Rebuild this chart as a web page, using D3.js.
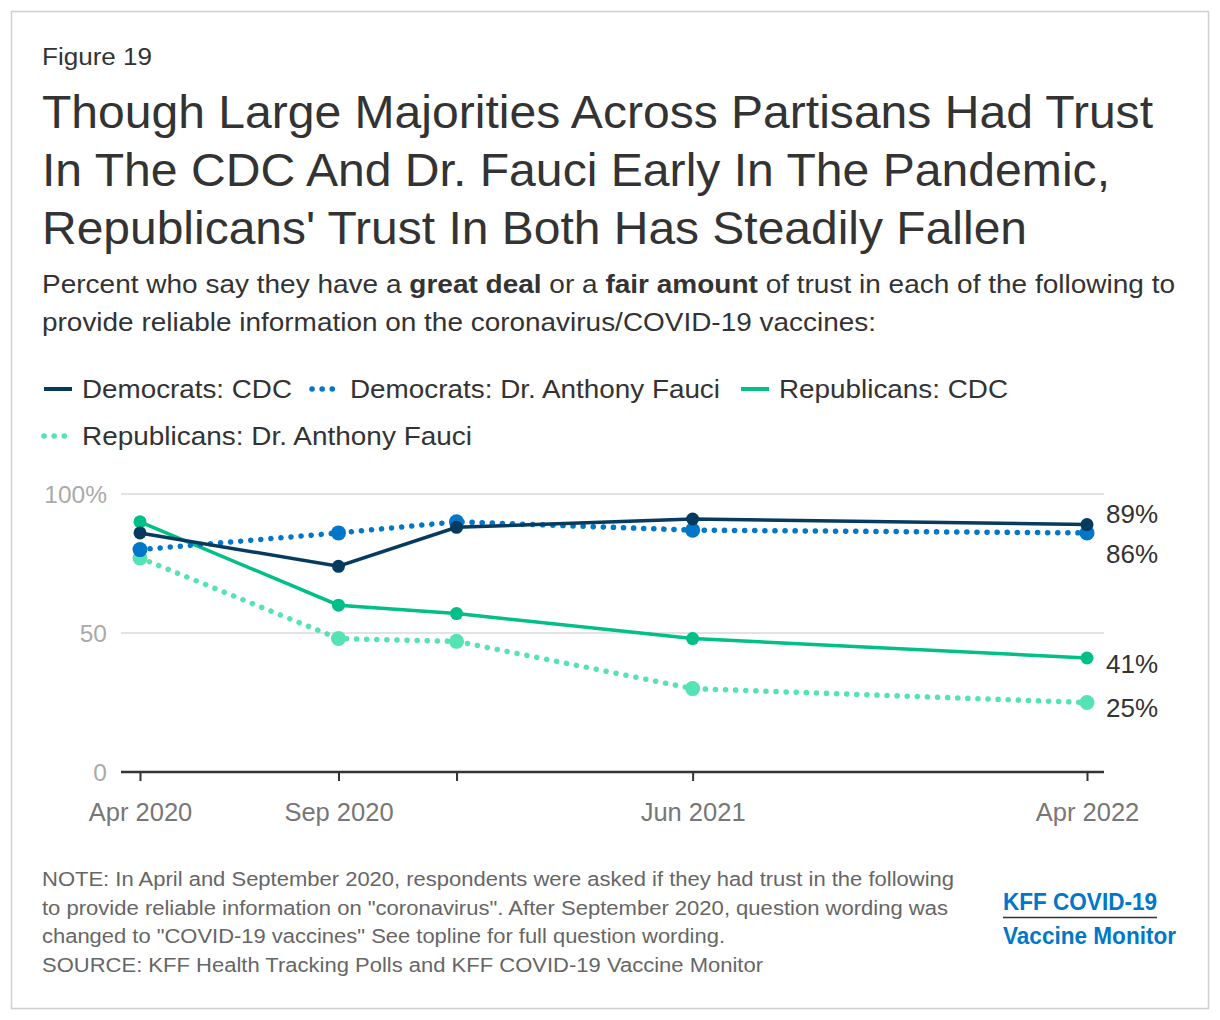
<!DOCTYPE html>
<html><head><meta charset="utf-8">
<script src="https://cdn.jsdelivr.net/npm/d3@7"></script>
<style>
body{margin:0;background:#fff;font-family:"Liberation Sans",Arial,sans-serif;}
svg text{font-family:"Liberation Sans",Arial,sans-serif;}
</style></head><body>
<svg id="c" width="1220" height="1020"></svg>
<script>
const dates = ["2020-04-01","2020-09-01","2020-12-01","2021-06-01","2022-04-01"];
const tickLabels = ["Apr 2020","Sep 2020","","Jun 2021","Apr 2022"];
const seriesNames = ["Democrats: CDC","Democrats: Dr. Anthony Fauci","Republicans: CDC","Republicans: Dr. Anthony Fauci"];
const demCDC = [86,74,88,91,89];
const demFauci = [80,86,90,87,86];
const repCDC = [90,60,57,48,41];
const repFauci = [77,48,47,30,25];
const yTicks = [0,50,100];
const yTickLabels = ["0","50","100%"];

const colors = ["#063a5e","#0077c8","#00bf87","#55e3b3"];
const dotted = [false,true,false,true];
const allSeries = [demCDC,demFauci,repCDC,repFauci];

const svg = d3.select("#c");
svg.append("rect").attr("x",11.5).attr("y",11.5).attr("width",1197).attr("height",997)
  .attr("fill","#fff").attr("stroke","#cfcfcf").attr("stroke-width",1.5);

function fit(sel,w){ return sel.attr("textLength",w).attr("lengthAdjust","spacingAndGlyphs"); }

fit(svg.append("text").attr("x",42).attr("y",65).attr("font-size",23).attr("fill","#333").text("Figure 19"),110);
const title = ["Though Large Majorities Across Partisans Had Trust","In The CDC And Dr. Fauci Early In The Pandemic,","Republicans' Trust In Both Has Steadily Fallen"];
const titleW = [1111,1068,985];
title.forEach((t,i)=>fit(svg.append("text").attr("x",42).attr("y",128+i*58).attr("font-size",46).attr("fill","#333").text(t),titleW[i]));

const sub1 = svg.append("text").attr("x",42).attr("y",293).attr("font-size",25.5).attr("fill","#333");
sub1.append("tspan").text("Percent who say they have a ");
sub1.append("tspan").attr("font-weight","bold").text("great deal");
sub1.append("tspan").text(" or a ");
sub1.append("tspan").attr("font-weight","bold").text("fair amount");
sub1.append("tspan").text(" of trust in each of the following to");
fit(sub1,1133);
fit(svg.append("text").attr("x",42).attr("y",331).attr("font-size",25.5).attr("fill","#333")
  .text("provide reliable information on the coronavirus/COVID-19 vaccines:"),834);

// legend
const legPos = [[42,389],[310,389],[739,389],[42,436]];
const legW = [210,370,229,390];
seriesNames.forEach((n,i)=>{
  const [lx,ly]=legPos[i];
  const l = svg.append("line").attr("x1",lx+2).attr("x2",lx+30).attr("y1",ly).attr("y2",ly)
    .attr("stroke",colors[i]).attr("stroke-width",4);
  if(dotted[i]) l.attr("stroke-dasharray","0.1,10").attr("stroke-linecap","round").attr("stroke-width",5.5);
  fit(svg.append("text").attr("x",lx+40).attr("y",ly+9).attr("font-size",25.5).attr("fill","#333").text(n),legW[i]);
});

const parse = d3.timeParse("%Y-%m-%d");
const dd = dates.map(parse);
const x = d3.scaleTime().domain([dd[0],dd[4]]).range([140,1087]);
const y = d3.scaleLinear().domain([0,100]).range([772,494]);

// grid
svg.append("g").selectAll("line").data(yTicks.filter(v=>v>0)).join("line")
  .attr("x1",121).attr("x2",1104).attr("y1",d=>y(d)).attr("y2",d=>y(d))
  .attr("stroke","#e3e3e3").attr("stroke-width",2);
svg.append("g").selectAll("text").data(yTicks).join("text")
  .attr("x",107).attr("y",d=>y(d)+9).attr("text-anchor","end").attr("font-size",24.5).attr("fill","#aaa")
  .text((d,i)=>yTickLabels[i]);

// x axis
const xAxis = d3.axisBottom(x).tickValues(dd).tickSize(9).tickSizeOuter(0).tickFormat((d,i)=>tickLabels[i]);
const gx = svg.append("g").attr("transform","translate(0,772)").call(xAxis);
gx.select(".domain").remove();
gx.append("line").attr("x1",121).attr("x2",1104).attr("y1",0).attr("y2",0).attr("stroke","#333").attr("stroke-width",2.5);
gx.selectAll(".tick line").attr("stroke","#333").attr("stroke-width",2);
gx.selectAll(".tick text").attr("font-size",25.5).attr("fill","#777").attr("dy","1.45em")
  .attr("font-family","'Liberation Sans',Arial,sans-serif");

// lines
const line = d3.line().x((d,i)=>x(dd[i])).y(d=>y(d));
const drawOrder = [3,2,1,0];
drawOrder.forEach(i=>{
  const p = svg.append("path").datum(allSeries[i]).attr("d",line).attr("fill","none")
    .attr("stroke",colors[i]).attr("stroke-width",3.5);
  if(dotted[i]) p.attr("stroke-dasharray","0.1,10").attr("stroke-linecap","round").attr("stroke-width",5.5);
  svg.append("g").selectAll("circle").data(allSeries[i]).join("circle")
    .attr("cx",(d,k)=>x(dd[k])).attr("cy",d=>y(d)).attr("r",dotted[i]?7.5:6.5).attr("fill",colors[i]);
});

// end labels
const endYs = [523,563,673,717];
allSeries.forEach((s,i)=>{
  svg.append("text").attr("x",1106).attr("y",endYs[i]).attr("font-size",26).attr("fill","#333")
    .text(s[s.length-1]+"%");
});

// notes
const notes = ["NOTE: In April and September 2020, respondents were asked if they had trust in the following",
"to provide reliable information on \"coronavirus\". After September 2020, question wording was",
"changed to \"COVID-19 vaccines\" See topline for full question wording.",
"SOURCE: KFF Health Tracking Polls and KFF COVID-19 Vaccine Monitor"];
const noteW = [912,906,683,721];
notes.forEach((t,i)=>fit(svg.append("text").attr("x",42).attr("y",886+i*28.5).attr("font-size",20)
  .attr("fill","#666").text(t),noteW[i]));

// logo
fit(svg.append("text").attr("x",1003).attr("y",910).attr("font-size",23).attr("font-weight","bold")
  .attr("fill","#0077c8").text("KFF COVID-19"),154);
svg.append("line").attr("x1",1003).attr("x2",1157).attr("y1",917.5).attr("y2",917.5).attr("stroke","#333").attr("stroke-width",1.5);
fit(svg.append("text").attr("x",1003).attr("y",944).attr("font-size",23).attr("font-weight","bold")
  .attr("fill","#0077c8").text("Vaccine Monitor"),173);
</script>
</body></html>
